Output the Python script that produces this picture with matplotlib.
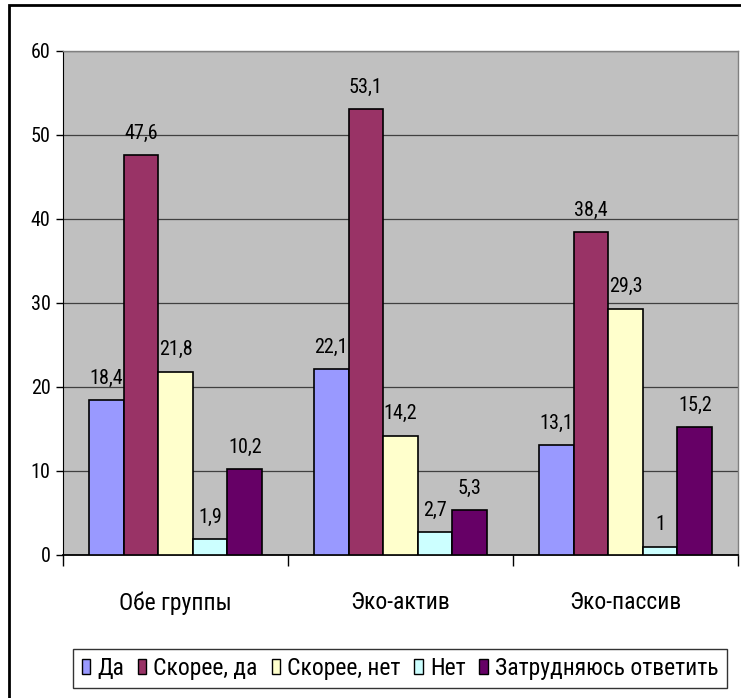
import matplotlib
matplotlib.use("Agg")
import matplotlib.pyplot as plt
import numpy as np
from matplotlib.patches import Rectangle, Patch

plt.rcParams['font.family'] = ['Roboto Condensed', 'PT Sans Narrow', 'DejaVu Sans']

categories = ["Обе группы", "Эко-актив", "Эко-пассив"]
series = ["Да", "Скорее, да", "Скорее, нет", "Нет", "Затрудняюсь ответить"]
values = {
    "Да": [18.4, 22.1, 13.1],
    "Скорее, да": [47.6, 53.1, 38.4],
    "Скорее, нет": [21.8, 14.2, 29.3],
    "Нет": [1.9, 2.7, 1.0],
    "Затрудняюсь ответить": [10.2, 5.3, 15.2],
}
colors = ["#9999FF", "#993366", "#FFFFCC", "#CCFFFF", "#660066"]
yticks = [0, 10, 20, 30, 40, 50, 60]

FS_NUM = 14.5
FS_TXT = 17
W, H = 741, 698
fig = plt.figure(figsize=(W / 100, H / 100), dpi=100)
fig.patch.set_facecolor("white")

# outer frame
fig.add_artist(Rectangle((9 / W, -0.2), 1.2, 1 - 5 / H + 0.2, transform=fig.transFigure,
                         fill=False, edgecolor="black", linewidth=2))

ax = fig.add_axes([63 / W, 1 - 555 / H, (738 - 63) / W, (555 - 51) / H])
ax.set_facecolor("#C0C0C0")

n = len(series)
bw = 0.77 / n
x = np.arange(len(categories))
for i, s in enumerate(series):
    pos = x - 0.385 + bw * (i + 0.5)
    z = 3 + i * 0.1
    bars = ax.bar(pos, values[s], width=bw, color=colors[i], edgecolor="black",
                  linewidth=1.2, zorder=z)
    for b, v in zip(bars, values[s]):
        lbl = ("%g" % v).replace(".", ",")
        ax.annotate(lbl, (b.get_x() + b.get_width() / 2, v), xytext=(0, 9),
                    textcoords="offset points", ha="center", va="bottom",
                    fontsize=FS_NUM, zorder=z + 0.05)

ax.set_xlim(-0.5, len(categories) - 0.5)
ax.set_ylim(0, 60)
ax.set_yticks(yticks)
ax.set_yticklabels([str(t) for t in yticks], fontsize=FS_NUM)
ax.yaxis.grid(True, color="#404040", linewidth=0.9, zorder=1)
ax.set_axisbelow(True)
ax.tick_params(axis="y", direction="out", length=5, width=1, pad=4)

ax.set_xticks(x)
ax.set_xticklabels(categories, fontsize=FS_TXT)
ax.tick_params(axis="x", length=0, pad=26)
ax.set_xticks(np.arange(len(categories) + 1) - 0.5, minor=True)
ax.tick_params(axis="x", which="minor", length=8, width=1, direction="out")

for side in ["top", "right"]:
    ax.spines[side].set_color("#808080")
    ax.spines[side].set_linewidth(1)
ax.spines["left"].set_color("black")
ax.spines["bottom"].set_color("black")
ax.spines["bottom"].set_linewidth(1.3)

handles = [Patch(facecolor=c, edgecolor="black", linewidth=1) for c in colors]
leg = fig.legend(handles, series, loc="center", bbox_to_anchor=(400 / W, 1 - 668.5 / H),
                 ncol=5, fontsize=FS_TXT, frameon=True, fancybox=False, edgecolor="black",
                 handlelength=0.36, handleheight=0.6, handletextpad=0.3,
                 columnspacing=0.58, borderpad=0.35, borderaxespad=0)
leg.get_frame().set_linewidth(1)

fig.savefig("out.png", dpi=100, facecolor="white")
